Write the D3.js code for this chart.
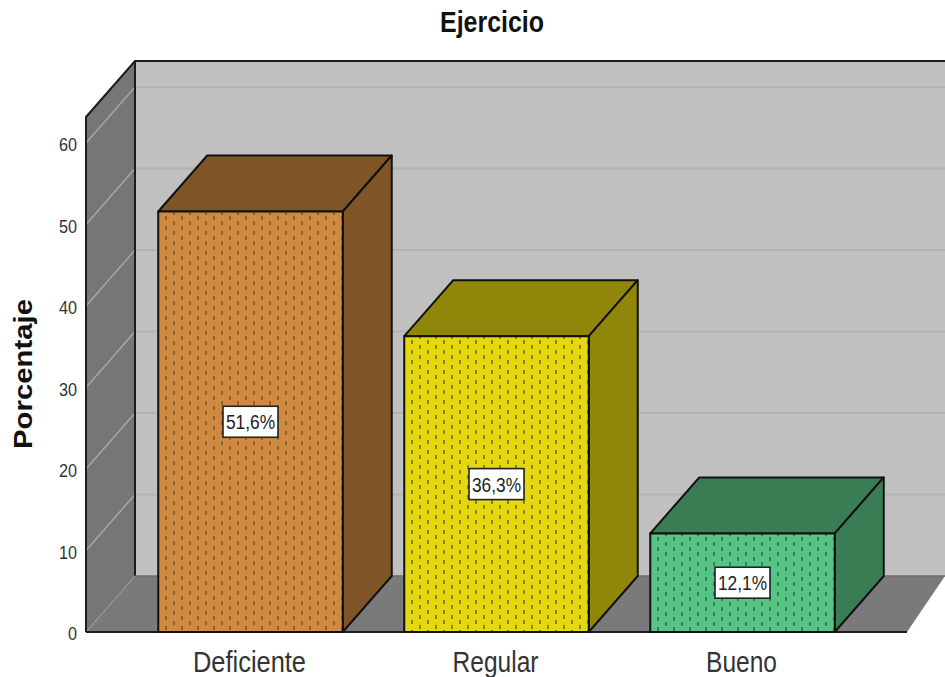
<!DOCTYPE html>
<html>
<head>
<meta charset="utf-8">
<script src="https://cdnjs.cloudflare.com/ajax/libs/d3/7.8.5/d3.min.js"></script>
<style>
html,body{margin:0;padding:0;background:#fff}
svg{display:block}
text{font-family:"Liberation Sans",Arial,sans-serif}
</style>
</head>
<body>
<svg id="chart" width="945" height="677"></svg>
<script>
const categories = ["Deficiente", "Regular", "Bueno"];
const percentages = [51.6, 36.3, 12.1];
const percentLabels = ["51,6%", "36,3%", "12,1%"];
const frontColors = ["#d08a40", "#e6d80f", "#55c484"];
const shadeColors = ["#7f5527", "#8f860a", "#3a7d55"];
const dashColors = ["#7a5a30", "#6f6a14", "#2f7048"];
const yTicks = [0, 10, 20, 30, 40, 50, 60];
const chartTitle = "Ejercicio";
const yTitle = "Porcentaje";

const svg = d3.select("#chart");
const depth = {x: 49, y: 56};
const y = d3.scaleLinear().domain([0, 63.2]).range([632, 117]);
const x = d3.scaleBand().domain(categories).range([127.5, 865.5]).paddingInner(0.25).paddingOuter(0.125);
const floorRight = 907, left = 86;
const ink = "#1c1c1c";
const poly = pts => pts.map(p => p.join(",")).join(" ");

// One hatch tile per bar: short vertical dashes in staggered columns
const defs = svg.append("defs");
categories.forEach((c, i) => {
  const p = defs.append("pattern").attr("id", "dots" + i)
    .attr("patternUnits", "userSpaceOnUse")
    .attr("x", Math.round(x(c))).attr("y", Math.round(y(percentages[i])) + 3)
    .attr("width", 16).attr("height", 10);
  p.append("rect").attr("width", 16).attr("height", 10).attr("fill", frontColors[i]);
  [[8, 3], [16, 8], [0, 8]].forEach(([dx, dy]) => {
    p.append("rect").attr("x", dx - 0.8).attr("y", dy - 2).attr("width", 1.6).attr("height", 4)
      .attr("fill", dashColors[i]);
  });
});

// Back wall, floor and left wall
svg.append("polygon").attr("fill", "#c0c0c0")
  .attr("points", poly([[left + depth.x, y(63.2) - depth.y], [945, y(63.2) - depth.y], [945, y(0) - depth.y], [left + depth.x, y(0) - depth.y]]));
svg.append("polygon").attr("fill", "#7a7a7a")
  .attr("points", poly([[left, y(0)], [left + depth.x, y(0) - depth.y], [945, y(0) - depth.y], [floorRight, y(0)]]));
svg.append("polygon").attr("fill", "#767676")
  .attr("points", poly([[left, y(0)], [left, y(63.2)], [left + depth.x, y(63.2) - depth.y], [left + depth.x, y(0) - depth.y]]));

// Gridlines run along the back wall and down the side wall
const grid = svg.append("g");
yTicks.filter(t => t > 0).forEach(t => {
  grid.append("line").attr("x1", left + depth.x).attr("x2", 945)
    .attr("y1", y(t) - depth.y).attr("y2", y(t) - depth.y)
    .attr("stroke", "#b2b2b2").attr("stroke-width", 2);
  grid.append("line").attr("x1", left).attr("x2", left + depth.x)
    .attr("y1", y(t)).attr("y2", y(t) - depth.y)
    .attr("stroke", "#a6a6a6").attr("stroke-width", 1.5);
});
grid.append("line").attr("x1", left).attr("y1", y(0)).attr("x2", left + depth.x).attr("y2", y(0) - depth.y)
  .attr("stroke", "#a0a0a0").attr("stroke-width", 1);

// Frame edges
const frame = svg.append("g").attr("fill", "none").attr("stroke", ink).attr("stroke-width", 2);
frame.append("polyline").attr("points", poly([[left, y(0)], [left, y(63.2)], [left + depth.x, y(63.2) - depth.y], [945, y(63.2) - depth.y]]));
frame.append("line").attr("x1", left + depth.x).attr("x2", left + depth.x).attr("y1", y(63.2) - depth.y).attr("y2", y(0) - depth.y);
frame.append("line").attr("x1", left).attr("x2", floorRight).attr("y1", y(0)).attr("y2", y(0));
svg.append("line").attr("x1", left + depth.x).attr("x2", 945).attr("y1", y(0) - depth.y).attr("y2", y(0) - depth.y)
  .attr("stroke", "#6e6e6e").attr("stroke-width", 1.5);

// Bars as three-faced boxes
const bars = svg.append("g").selectAll("g").data(categories).join("g")
  .attr("stroke", "#111").attr("stroke-width", 2).attr("stroke-linejoin", "round");
bars.each(function (c, i) {
  const g = d3.select(this);
  const x0 = x(c), x1 = x0 + x.bandwidth(), yt = y(percentages[i]), yb = y(0);
  g.append("polygon").attr("fill", shadeColors[i])
    .attr("points", poly([[x0, yt], [x0 + depth.x, yt - depth.y], [x1 + depth.x, yt - depth.y], [x1, yt]]));
  g.append("polygon").attr("fill", shadeColors[i])
    .attr("points", poly([[x1, yt], [x1 + depth.x, yt - depth.y], [x1 + depth.x, yb - depth.y], [x1, yb]]));
  g.append("rect").attr("x", x0).attr("y", yt).attr("width", x1 - x0).attr("height", yb - yt)
    .attr("fill", `url(#dots${i})`);
});

// Value labels in white boxes at mid-height of the front face
categories.forEach((c, i) => {
  const cx = x(c) + x.bandwidth() / 2;
  const cy = y(percentages[i] / 2);
  svg.append("rect").attr("x", cx - 27.5).attr("y", cy - 15.5).attr("width", 55).attr("height", 31)
    .attr("fill", "#fff").attr("stroke", "#222").attr("stroke-width", 1.6);
  svg.append("text").attr("x", cx).attr("y", cy + 7.5).attr("text-anchor", "middle")
    .attr("font-size", 20).attr("fill", "#222")
    .attr("textLength", 49).attr("lengthAdjust", "spacingAndGlyphs").text(percentLabels[i]);
});

// Value axis labels
yTicks.forEach(t => {
  svg.append("text").attr("x", 77).attr("y", y(t) + 8).attr("text-anchor", "end")
    .attr("font-size", 19).attr("fill", "#333")
    .attr("textLength", t === 0 ? 9 : 18).attr("lengthAdjust", "spacingAndGlyphs").text(t);
});

// Category labels
const catWidths = [113, 86, 71];
categories.forEach((c, i) => {
  svg.append("text").attr("x", x(c) + x.bandwidth() / 2 - 1).attr("y", 671.5).attr("text-anchor", "middle")
    .attr("font-size", 30).attr("fill", "#333")
    .attr("textLength", catWidths[i]).attr("lengthAdjust", "spacingAndGlyphs").text(c);
});

// Titles
svg.append("text").attr("x", 492).attr("y", 32).attr("text-anchor", "middle")
  .attr("font-size", 29).attr("font-weight", "bold").attr("fill", "#111")
  .attr("textLength", 104).attr("lengthAdjust", "spacingAndGlyphs").text(chartTitle);
svg.append("text").attr("transform", "translate(32,374) rotate(-90)").attr("text-anchor", "middle")
  .attr("font-size", 26).attr("font-weight", "bold").attr("fill", "#111")
  .attr("textLength", 150).attr("lengthAdjust", "spacingAndGlyphs").text(yTitle);
</script>
</body>
</html>
